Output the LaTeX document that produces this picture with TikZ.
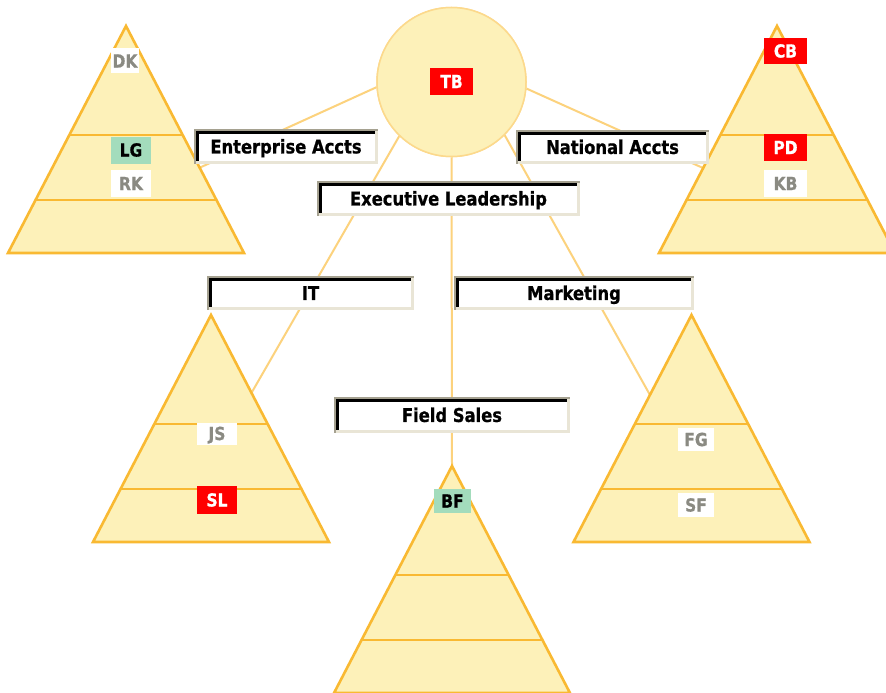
\documentclass[tikz,border=0pt]{standalone}
\usepackage{fontspec}
\newfontfamily\labfont{DejaVu Sans}[FakeStretch=0.86, FakeBold=0.8]
\definecolor{pyrfill}{HTML}{FDF1B9}
\definecolor{pyrline}{HTML}{F9B932}
\definecolor{hubline}{HTML}{FCD98C}
\definecolor{connline}{HTML}{FCD27D}
\definecolor{bgray}{HTML}{A5A190}
\definecolor{bbeige}{HTML}{E9E5D6}
\definecolor{tgraytext}{HTML}{8A8A82}
\definecolor{tgreenfill}{HTML}{A3DCBC}
\definecolor{tred}{HTML}{FF0000}
\tikzset{
  conn/.style={draw=connline, line width=2pt},
  pyrdiv/.style={draw=pyrline, line width=2.6pt},
  pyrout/.style={draw=pyrline, line width=2.6pt, line join=miter, fill=pyrfill},
  hubstyle/.style={circle, fill=pyrfill, draw=hubline, line width=1.5pt, minimum size=149pt, inner sep=0pt},
  lab/.style={fill=white, inner sep=0pt, minimum height=35pt,
    text height=13.9pt, text depth=0pt,
    font=\labfont\bfseries\fontsize{19}{19}\selectfont,
    path picture={
      \fill[bbeige] (path picture bounding box.south west) rectangle ([yshift=3pt]path picture bounding box.south east);
      \fill[bbeige] ([xshift=-3pt]path picture bounding box.north east) rectangle (path picture bounding box.south east);
      \fill[bgray] (path picture bounding box.north west) rectangle ([yshift=-2pt]path picture bounding box.north east);
      \fill[bgray] (path picture bounding box.north west) rectangle ([xshift=2pt]path picture bounding box.south west);
      \fill[black] ([xshift=2pt,yshift=-2pt]path picture bounding box.north west) rectangle ([xshift=-3pt,yshift=-5pt]path picture bounding box.north east);
      \fill[black] ([xshift=2pt,yshift=-2pt]path picture bounding box.north west) rectangle ([xshift=5pt,yshift=3pt]path picture bounding box.south west);
    }},
  tag/.style={inner sep=0pt, minimum width=40pt, minimum height=27pt,
    text height=13.1pt, text depth=0pt,
    font=\labfont\bfseries\fontsize{18}{18}\selectfont},
  taggray/.style={tag, fill=white, text=tgraytext},
  tagred/.style={tag, fill=tred, text=white},
  taggreen/.style={tag, fill=tgreenfill, text=black}
}
\newcommand\pyramid[2]{%
  \fill[pyrfill] (#1,#2) -- ++(-118,227) -- ++(236,0) -- cycle;
  \draw[pyrdiv] (#1,#2) ++(-56.7,109) -- ++(113.4,0);
  \draw[pyrdiv] (#1,#2) ++(-90.4,174) -- ++(180.8,0);
  \draw[pyrout, fill=none] (#1,#2) -- ++(-118,227) -- ++(236,0) -- cycle;
}
\begin{document}
\begin{tikzpicture}[x=1pt,y=-1pt]
  \useasboundingbox[fill=white] (0,0) rectangle (886,693);
  \clip (0,0) rectangle (886,693);
  % hub
  \node[hubstyle] (hub) at (451.5,82) {};
  % connector end points on the pyramids
  \coordinate (p1) at (199,168);
  \coordinate (p2) at (703,168);
  \coordinate (p3) at (252,392);
  \coordinate (p4) at (452,466);
  \coordinate (p5) at (650,395);
  % connectors (behind)
  \draw[conn] (hub.184) -- (p1);
  \draw[conn] (hub.-5) -- (p2);
  \draw[conn] (hub.226) -- (p3);
  \draw[conn] (hub.south) -- (p4);
  \draw[conn] (hub.-45.5) -- (p5);
  % hub again on top of connectors
  \node[hubstyle] at (hub) {};
  % pyramids
  \pyramid{126}{26}
  \pyramid{777}{26}
  \pyramid{211}{315}
  \pyramid{452}{466}
  \pyramid{691.5}{315}
  % tags
  \node[tagred, minimum width=43pt] (tb) at (451.5,81.5) {TB};
  \node[taggray, minimum width=28pt, minimum height=25pt] (dk) at (125,61) {DK};
  \node[taggreen] (lg) at (131,150) {LG};
  \node[taggray] (rk) at (131,183.5) {RK};
  \node[tagred, minimum width=43pt, minimum height=26pt] (cb) at (785.5,51) {CB};
  \node[tagred, minimum width=43pt] (pd) at (785.5,147.5) {PD};
  \node[taggray, minimum width=43pt] (kb) at (785.5,183.5) {KB};
  \node[taggray, minimum height=22pt] (js) at (217,433.5) {JS};
  \node[tagred, minimum height=28pt] (sl) at (217,500) {SL};
  \node[taggreen, minimum width=37pt, minimum height=24pt] (bf) at (452.5,501) {BF};
  \node[taggray, minimum width=36pt, minimum height=23pt] (fg) at (696,439.5) {FG};
  \node[taggray, minimum width=36pt, minimum height=24pt] (sf) at (696,505) {SF};
  % labels
  \node[lab, minimum width=184pt] (ent) at (286,146.5) {Enterprise Accts};
  \node[lab, minimum width=193pt, minimum height=34pt] (nat) at (612.5,147) {National Accts};
  \node[lab, minimum width=263pt] (exe) at (448.5,198.5) {Executive Leadership};
  \node[lab, minimum width=207pt, minimum height=34pt] (it) at (310.5,293) {IT};
  \node[lab, minimum width=240pt, minimum height=34pt] (mkt) at (574,293) {Marketing};
  \node[lab, minimum width=236pt, minimum height=36pt] (fld) at (452,415) {Field Sales};
\end{tikzpicture}
\end{document}
